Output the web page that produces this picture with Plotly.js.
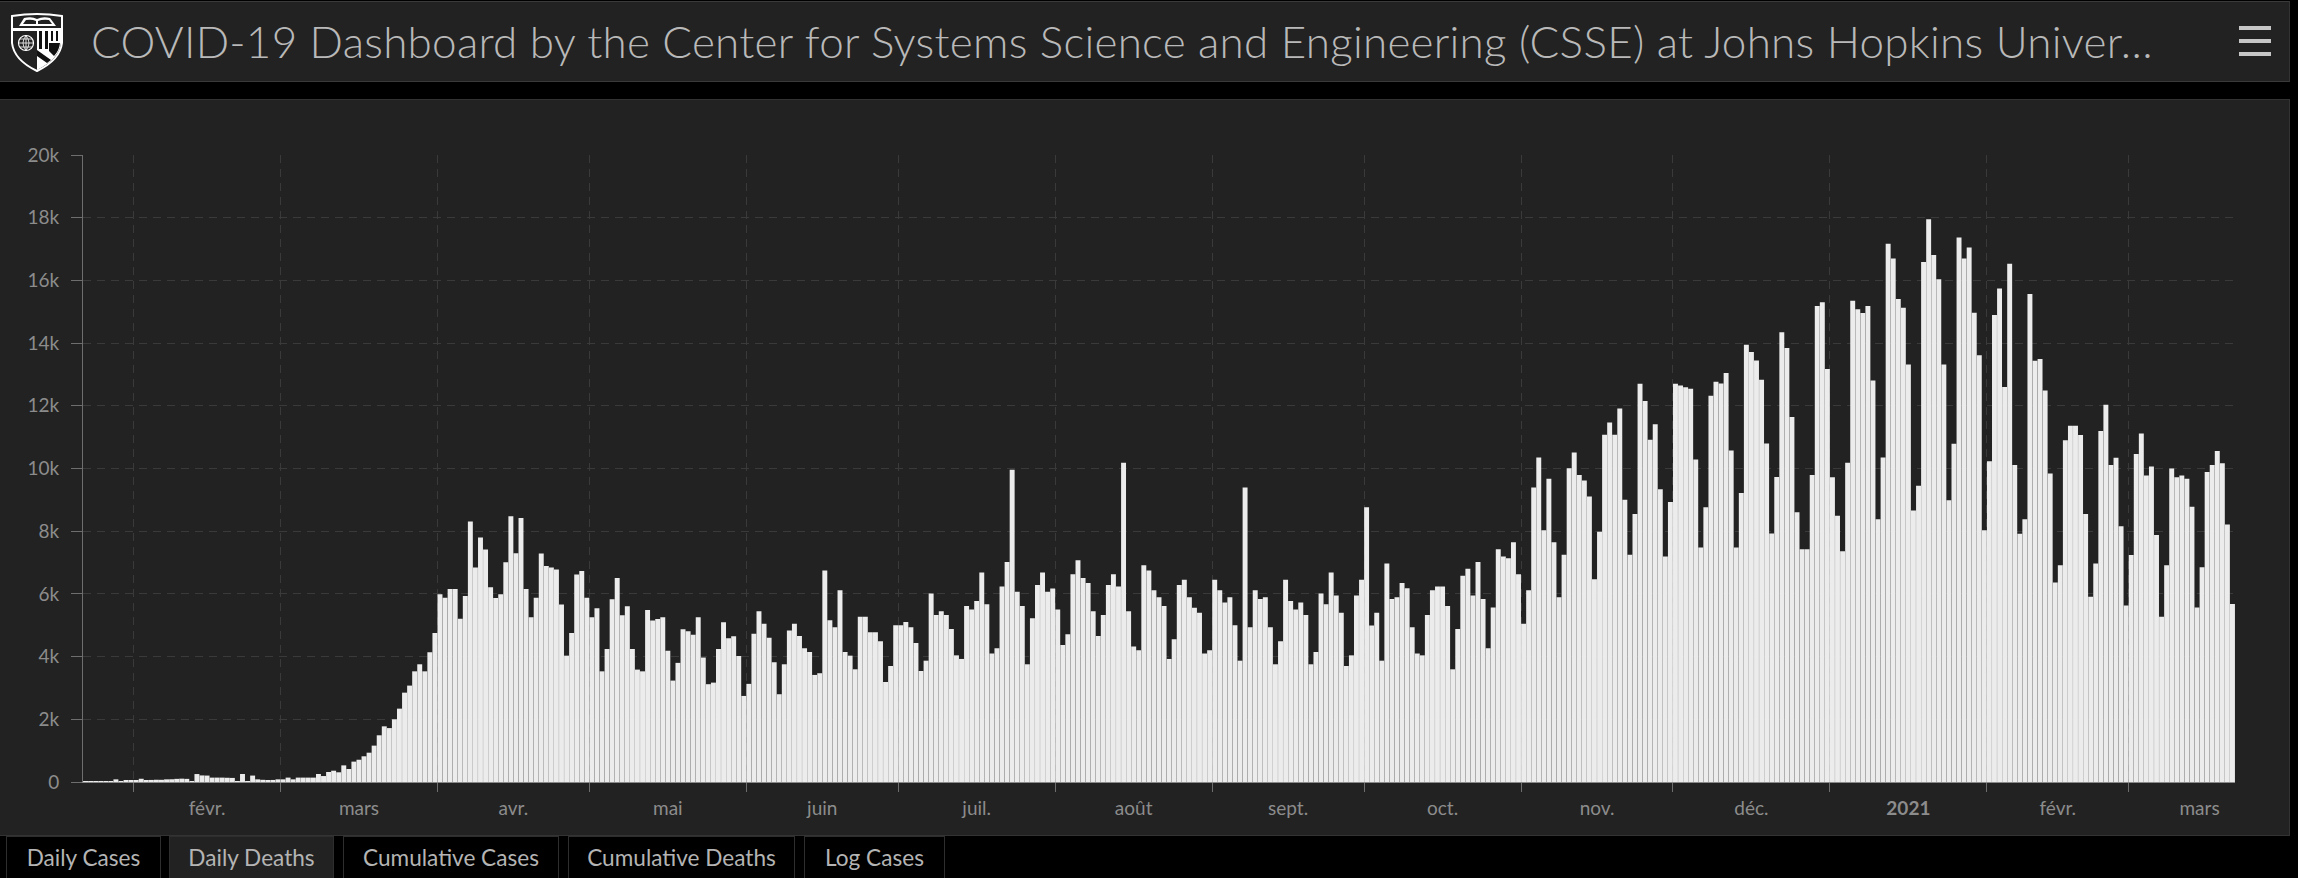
<!DOCTYPE html>
<html><head><meta charset="utf-8">
<script src="https://cdn.plot.ly/plotly-3.0.1.min.js"></script>
<style>
html,body{margin:0;padding:0;background:#000;width:2298px;height:878px;overflow:hidden;font-family:Lato,"Open Sans",sans-serif}
#header{position:absolute;left:0;top:2px;width:2289px;height:79px;background:#222;border-top:1px solid #3a3a3a;border-bottom:1px solid #3a3a3a;border-right:1px solid #333;box-sizing:content-box;margin-top:-1px}
#title{position:absolute;left:91px;top:14px;font-size:44px;font-weight:300;color:#b9b9b9;white-space:nowrap;letter-spacing:.25px;line-height:50px}
#logo{position:absolute;left:10px;top:11px}
.bar{position:absolute;left:2239px;width:32px;height:4px;background:#c6c6c6}
#panel{position:absolute;left:0;top:100px;width:2289px;height:735px;background:#222;outline:1px solid #333}
.tab{position:absolute;top:836px;height:42px;box-sizing:border-box;border:1px solid #2e2e2e;border-bottom:none;color:#b4b4b4;font-size:22.6px;line-height:41px;text-align:center;background:#000;white-space:nowrap}
.tab.on{background:#222}
.barlayer path{shape-rendering:geometricPrecision !important}
</style></head><body>
<div id="header">
<svg id="logo" width="54" height="60" viewBox="0 0 54 60">
<path d="M2 3 Q27 -1 52 3 L52 30 Q50 47 27 58 Q4 47 2 30 Z" fill="#222" stroke="#fff" stroke-width="2"/>
<path d="M9 13 L14 5 Q22 3 27 6 Q33 3 40 5 L46 13 Z" fill="#fff"/>
<path d="M13 11 L16 7 Q22 6 26 8 V11 Z M42 11 L39 7 Q33 6 28 8 V11 Z" fill="#222"/>
<rect x="2" y="15" width="50" height="3" fill="#fff"/>
<circle cx="16" cy="30" r="7.5" fill="none" stroke="#fff" stroke-width="1.2"/>
<path d="M8.5 30 H23.5 M9.5 26 H22.5 M9.5 34 H22.5 M16 22.5 V37.5 M16 22.5 Q10 30 16 37.5 M16 22.5 Q22 30 16 37.5" fill="none" stroke="#fff" stroke-width=".8"/>
<path d="M27 18 H51 V30 Q49 46 27 57 Z" fill="#fff"/>
<path d="M29 18 H32 V36 H29 Z M35 18 H38 V36 H35 Z M41 18 H43 V28 H41 Z M46 18 H48 V28 H46 Z M27 37 L41 47 L37 50 L27 43 Z M39 30 H50 Q49 38 44 43 L39 38 Z" fill="#111"/>
</svg>
<div id="title">COVID-19 Dashboard by the Center for Systems Science and Engineering (CSSE) at Johns Hopkins Univer…</div>
<div class="bar" style="top:24px"></div><div class="bar" style="top:37px"></div><div class="bar" style="top:50px"></div>
</div>
<div id="panel"><div id="chart" style="width:2289px;height:735px"></div></div>
<div class="tab" style="left:6px;width:155px">Daily Cases</div>
<div class="tab on" style="left:169px;width:165px">Daily Deaths</div>
<div class="tab" style="left:343px;width:216px">Cumulative Cases</div>
<div class="tab" style="left:568px;width:227px">Cumulative Deaths</div>
<div class="tab" style="left:804px;width:141px">Log Cases</div>
<script>
var firstDay = '2020-01-22';
var jan2020 = [10,10,10,15,15,25,85,5,40,45];
var feb2020 = [60,103,64,66,72,70,85,87,100,107,100,8,254,210,205,140,140,140,135,130,10,255,15,205,85,70,60,65,85];
var mar2020 = [85,140,85,140,140,140,140,255,190,320,360,310,530,415,650,710,820,935,1160,1490,1775,1720,2000,2340,2850,3075,3530,3755,3530,4140,4755];
var apr2020 = [5990,5880,6160,6160,5210,5935,8310,6840,7800,7415,6210,5870,5990,7010,8480,7300,8425,6160,5255,5880,7290,6890,6840,6780,5660,4030,4755,6620,6730,5880];
var may2020 = [5255,5540,3530,4245,5830,6510,5320,5605,4245,3585,3530,5490,5150,5200,5255,4190,3235,3800,4870,4810,4700,5255,3970,3120,3170,4245,5095,4585,4650,4020,2745];
var jun2020 = [3130,4725,5450,5050,4605,3820,2800,3755,4830,5050,4660,4265,4150,3415,3470,6745,5160,4935,6115,4150,4030,3595,5275,5275,4775,4775,4490,3190,3700,5000];
var jul2020 = [5000,5105,4935,4435,3540,3870,6010,5330,5450,5330,4880,4040,3925,5615,5500,5775,6680,5670,4095,4265,6235,7020,9960,6065,5615,3755,5225,6285,6680,6065,6170];
var aug2020 = [5500,4370,4715,6630,7075,6510,6350,5450,4660,5330,6285,6630,6235,10180,5450,4320,4200,6915,6745,6115,5895,5615,3925,4555,6285,6455,5895,5555,5395,4095,4200];
var sep2020 = [6455,6115,5725,5895,5000,3870,9395,4935,6115,5840,5895,4935,3755,4490,6455,5775,5500,5725,5330,3755,4150,6010,5670,6680,5945,5395,3700,4040,5945,6455];
var oct2020 = [8765,4990,5395,3870,6970,5840,5895,6350,6180,4935,4095,4040,5330,6115,6235,6235,5615,3595,4880,6575,6800,5945,7020,5840,4265,5565,7425,7190,7140,7650,6630];
var nov2020 = [5050,6115,9395,10350,8030,9670,7650,5895,7245,10010,10510,9790,9615,9105,6470,7980,11075,11470,11075,11915,9000,7245,8550,12700,12150,10915,11415,9340,7190,8935];
var dec2020 = [12700,12650,12595,12540,10285,7480,8765,12320,12765,12710,13050,10575,7480,9220,13945,13720,13445,12830,10800,7925,9725,14350,13840,11640,8605,7425,7425,9790,15180,15300,13170];
var jan2021 = [9720,8490,7360,10180,15350,15080,14960,15180,12810,8380,10350,17170,16700,15410,15130,13320,8660,9450,16590,17950,16810,16040,13320,8990,10790,17370,16700,17050,14970,13610,8030];
var feb2021 = [10230,14900,15740,12600,16530,10110,7920,8380,15570,13440,13490,12490,9840,6360,6910,10900,11360,11360,11070,8550,5910,6970,11200,12030,10110,10340,8160,5630];
var mar2021 = [7240,10460,11120,9780,10060,7880,5270,6910,10000,9720,9780,9670,8780,5570,6850,9890,10110,10560,10170,8210,5680];
var shortMonths = ['<b>2021</b>','févr.','mars','avr.','mai','juin','juil.','août','sept.','oct.','nov.','déc.'];

var deaths = [].concat(jan2020,feb2020,mar2020,apr2020,may2020,jun2020,jul2020,aug2020,sep2020,oct2020,nov2020,dec2020,jan2021,feb2021,mar2021);
var days = deaths.map(function(_,i){
  return new Date(Date.parse(firstDay+'T00:00:00Z')+i*864e5).toISOString().slice(0,10);
});
Plotly.register({moduleType:'locale',name:'fr-dash',dictionary:{},format:{
  shortMonths:shortMonths,
  months:shortMonths,
  days:['dimanche','lundi','mardi','mercredi','jeudi','vendredi','samedi'],
  shortDays:['dim.','lun.','mar.','mer.','jeu.','ven.','sam.']
}});
var tickFont={family:'Lato, sans-serif',size:19,color:'#8c8c8c'};
Plotly.newPlot('chart',[{
  type:'bar',x:days,y:deaths,xperiod:864e5,xperiodalignment:'middle',
  marker:{color:'#ececec',line:{width:0}},hoverinfo:'x+y'
}],{
  width:2289,height:735,
  paper_bgcolor:'#222',plot_bgcolor:'#222',showlegend:false,bargap:0.025,
  margin:{l:83,r:54,t:55,b:53},
  xaxis:{type:'date',range:['2020-01-22','2021-03-22'],dtick:'M1',tick0:'2020-01-01',ticklabelmode:'period',tickformat:'%b',
    ticks:'outside',ticklen:9,tickwidth:1,tickcolor:'#6e6e6e',showline:true,linecolor:'#8a8a8a',linewidth:1,
    showgrid:true,gridcolor:'#3a3a3a',griddash:'8px,6px',gridwidth:1,tickfont:tickFont,zeroline:false},
  yaxis:{range:[0,20000],dtick:2000,tickformat:'~s',ticks:'outside',ticklen:11,tickwidth:1,tickcolor:'#6e6e6e',
    showline:true,linecolor:'#6e6e6e',linewidth:1,showgrid:true,gridcolor:'#3a3a3a',griddash:'8px,6px',gridwidth:1,
    tickfont:tickFont,zeroline:false,ticklabelstandoff:8}
},{displayModeBar:false,locale:'fr-dash'});
</script>
</body></html>
